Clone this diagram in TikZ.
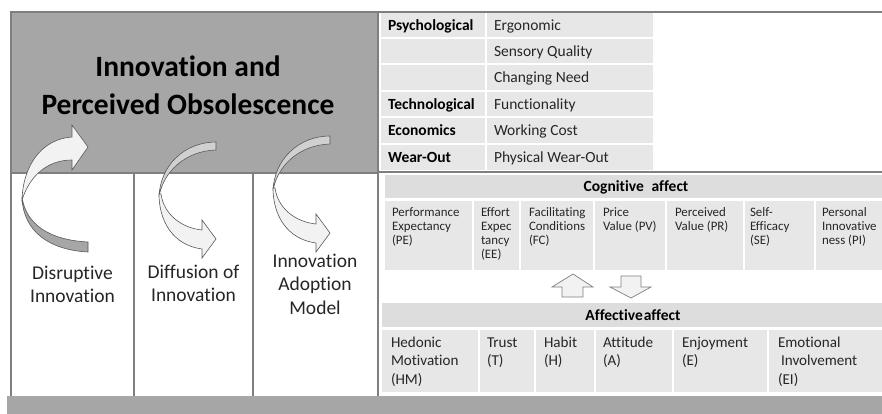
\documentclass[tikz,border=0pt]{standalone}
\usepackage{fontspec}
\setmainfont{Carlito}[Ligatures={NoCommon}]
\definecolor{boxgray}{HTML}{A6A6A6}
\definecolor{linegray}{HTML}{7F7F7F}
\definecolor{cellgray}{HTML}{E7E7E7}
\definecolor{headgray}{HTML}{DDDDDD}
\definecolor{arrowlight}{HTML}{F2F2F2}
\definecolor{arrowback}{HTML}{D0D0D0}
\definecolor{arrowline}{HTML}{595959}
\definecolor{txtcol}{HTML}{262626}
\newcommand\fTitle{\fontsize{29.5}{38}\selectfont\bfseries}
\newcommand\fTab{\fontsize{15.5}{18}\selectfont}
\newcommand\fCol{\fontsize{19.5}{23.8}\selectfont}
\newcommand\fCog{\fontsize{12.9}{14.3}\selectfont}
\newcommand\fAff{\fontsize{15.1}{18.5}\selectfont}
\newcommand\lcell[1]{\parbox[t]{100pt}{\raggedright #1}}
\newcommand\ccell[2]{\parbox[t]{#1}{\centering #2}}
\begin{document}
\begin{tikzpicture}[x=1pt,y=-1pt,
  txt/.style={inner sep=0pt, outer sep=0pt, text=txtcol},
  lefttxt/.style={txt, anchor=base west},
  midtxt/.style={txt, anchor=base},
  frame/.style={draw=linegray, line width=1.2pt},
  arrowfront/.style={fill=arrowlight, draw=arrowline, line width=0.6pt},
  arrowbackdark/.style={fill=boxgray, draw=arrowline, line width=0.6pt},
  arrowbacklight/.style={fill=arrowback, draw=arrowline, line width=0.6pt},
  blockarrow/.style={fill=arrowlight, draw=linegray, line width=0.7pt}]
\useasboundingbox (0,0) rectangle (882,414);
\fill[white] (0,0) rectangle (882,414);

% title box
\filldraw[fill=boxgray, draw=linegray, line width=1.2pt] (11,12) rectangle (378,173);
% frame lines
\draw[frame] (378,12) -- (882,12);
\draw[frame] (378,172) -- (882,172);
\draw[frame] (378,12) -- (378,396);
\draw[frame] (11,173) -- (11,396);
\draw[frame] (134,173) -- (134,396);
\draw[frame] (253,173) -- (253,396);
% bottom bar
\fill[boxgray] (7,396) rectangle (882,414);

% obsolescence table
\foreach \ya/\yb in {13/37, 39/63, 65/90, 92/116, 118/143, 145/170} {
  \fill[cellgray] (381,\ya) rectangle (485,\yb);
  \fill[cellgray] (487,\ya) rectangle (653,\yb);
}
% cognitive block
\fill[headgray] (385,175) rectangle (882,198);
\foreach \xa/\xb in {385/472, 474/519, 521/593, 595/665, 667/743, 745/814, 816/882} {
  \fill[cellgray] (\xa,201) rectangle (\xb,270);
}
% affective block
\fill[headgray] (382,303) rectangle (882,327);
\foreach \xa/\xb in {382/478, 480/534, 536/594, 596/672, 674/767, 769/882} {
  \fill[cellgray] (\xa,330) rectangle (\xb,392);
}

% curved arrow 1
\filldraw[arrowbackdark] (88,242) -- (88,252) .. controls (50,250) and (23,232) .. (22,197) .. controls (26,225) and (50,240) .. (88,242) -- cycle;
\filldraw[arrowfront] (22,200) .. controls (23,165) and (42,139) .. (72,137) -- (72,125) -- (88,147) -- (72,170) -- (72,160) .. controls (48,160) and (30,175) .. (22,200) -- cycle;
% curved arrow 2
\filldraw[arrowbacklight] (216,150) -- (216,142) .. controls (185,142) and (160,165) .. (159,197) .. controls (163,172) and (185,151) .. (216,150) -- cycle;
\filldraw[arrowfront] (159,194) .. controls (159,220) and (172,245) .. (202,249) -- (202,258) -- (216,239) -- (202,220) -- (202,230) .. controls (182,228) and (164,215) .. (161,194) -- cycle;
% curved arrow 3
\begin{scope}[shift={(114,-6)}]
\filldraw[arrowbacklight] (216,150) -- (216,142) .. controls (185,142) and (160,165) .. (159,197) .. controls (163,172) and (185,151) .. (216,150) -- cycle;
\filldraw[arrowfront] (159,194) .. controls (159,220) and (172,245) .. (202,249) -- (202,258) -- (216,239) -- (202,220) -- (202,230) .. controls (182,228) and (164,215) .. (161,194) -- cycle;
\end{scope}

% block arrows
\filldraw[blockarrow] (562,297) -- (562,287) -- (552,287) -- (573,274) -- (593,287) -- (583,287) -- (583,297) -- cycle;
\filldraw[blockarrow] (621,276) -- (641,276) -- (641,287) -- (651,287) -- (631,298) -- (610,287) -- (621,287) -- cycle;

% title
\node[midtxt, font=\fTitle, text=black] (title) at (188,77) {\ccell{360pt}{Innovation and\\Perceived Obsolescence}};
% column labels
\node[midtxt, font=\fCol] (disr) at (72.5,279) {\ccell{120pt}{Disruptive\\Innovation}};
\node[midtxt, font=\fCol] (diff) at (193.5,278) {\ccell{118pt}{Diffusion of\\Innovation}};
\node[midtxt, font=\fCol] (iam) at (315,267) {\ccell{122pt}{Innovation\\Adoption\\Model}};

% table text
\node[lefttxt, font=\fTab\bfseries, text=black] (psy) at (388,30.5) {Psychological};
\node[lefttxt, font=\fTab] (ergo) at (494,30.5) {Ergonomic};
\node[lefttxt, font=\fTab] (sens) at (494,56.5) {Sensory Quality};
\node[lefttxt, font=\fTab] (chng) at (494,83) {Changing Need};
\node[lefttxt, font=\fTab\bfseries, text=black] (tech) at (388,109.5) {Technological};
\node[lefttxt, font=\fTab] (func) at (494,109.5) {Functionality};
\node[lefttxt, font=\fTab\bfseries, text=black] (econ) at (388,136) {Economics};
\node[lefttxt, font=\fTab] (work) at (494,136) {Working Cost};
\node[lefttxt, font=\fTab\bfseries, text=black] (wear) at (388,162.5) {Wear-Out};
\node[lefttxt, font=\fTab] (phys) at (494,162.5) {Physical Wear-Out};

% cognitive
\node[midtxt, font=\fTab\bfseries, text=black] (cog) at (636,191) {Cognitive\hspace{0.5em}affect};
\node[lefttxt, font=\fCog] (pe) at (392,216) {\lcell{Performance\\Expectancy\\(PE)}};
\node[lefttxt, font=\fCog] (ee) at (481,216) {\lcell{Effort\\Expec\\tancy\\(EE)}};
\node[lefttxt, font=\fCog] (fc) at (529,216) {\lcell{Facilitating\\Conditions\\(FC)}};
\node[lefttxt, font=\fCog] (pv) at (603,216) {\lcell{Price\\Value (PV)}};
\node[lefttxt, font=\fCog] (pr) at (675,216) {\lcell{Perceived\\Value (PR)}};
\node[lefttxt, font=\fCog] (se) at (750,216) {\lcell{Self-\\Efficacy\\(SE)}};
\node[lefttxt, font=\fCog] (pi) at (822,216) {\lcell{Personal\\Innovative\\ness (PI)}};

% affective
\node[midtxt, font=\fTab\bfseries, text=black] (aff) at (633,320.5) {Affective\hspace{0.06em}affect};
\node[lefttxt, font=\fAff] (hm) at (391,347) {\lcell{Hedonic\\Motivation\\(HM)}};
\node[lefttxt, font=\fAff] (tr) at (487,347) {\lcell{Trust\\(T)}};
\node[lefttxt, font=\fAff] (ha) at (544,347) {\lcell{Habit\\(H)}};
\node[lefttxt, font=\fAff] (at) at (603,347) {\lcell{Attitude\\(A)}};
\node[lefttxt, font=\fAff] (en) at (682,347) {\lcell{Enjoyment\\(E)}};
\node[lefttxt, font=\fAff] (ei) at (778,347) {\lcell{Emotional\\\hspace*{3pt}Involvement\\(EI)}};
\end{tikzpicture}
\end{document}
